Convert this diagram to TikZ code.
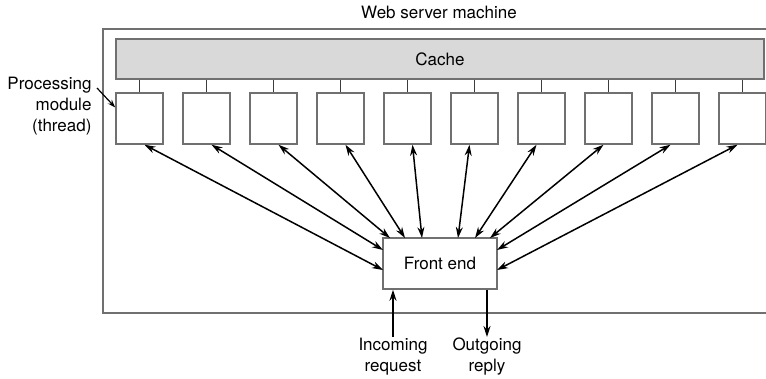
\documentclass[tikz,border=0pt]{standalone}
\usepackage{fontspec}
\setmainfont{TeX Gyre Heros}
\usepackage{tikz}
\usetikzlibrary{arrows.meta,positioning,calc}
\usepackage{xcolor}
\definecolor{wsgray}{RGB}{112,112,112}
\definecolor{wsfill}{RGB}{217,217,217}
\definecolor{wsdark}{RGB}{60,60,60}
\tikzstyle{module} = [draw=wsgray, line width=1.5pt, minimum width=47pt, minimum height=51pt, inner sep=0pt]
\tikzstyle{link} = [line width=1.5pt, {Stealth[length=11pt,width=7pt]}-{Stealth[length=11pt,width=7pt]}]
\tikzstyle{oneway} = [line width=1.5pt, -{Stealth[length=11pt,width=7pt]}]
\tikzstyle{lbl} = [font=\fontsize{17}{21}\selectfont, align=center]

\begin{document}
\begin{tikzpicture}[x=1pt, y=1pt]
    \useasboundingbox (0,0) rectangle (766,378);

    % Machine frame (open to the right)
    \draw[wsgray, line width=1.5pt] (766,349) -- (103,349) -- (103,65) -- (766,65);
    \node[lbl] (title) at (439,366) {Web server machine};

    % Cache
    \node[module, fill=wsfill, minimum width=648pt, minimum height=40pt] (cache) at (440,319) {};
    \node[lbl] at (cache) {Cache};

    % Processing modules
    \foreach \i in {1,...,10} {
        \node[module] (m\i) at ({139.5+67*(\i-1)}, 259.5) {};
        \draw[wsdark, line width=1.5pt] (m\i.north) -- (m\i.north |- cache.south);
    }

    % Front end
    \node[module, minimum width=114pt] (fe) at (440,114.5) {};
    \node[lbl] at (fe) {Front end};

    % Module <-> front end
    \foreach \i/\sx/\dx/\dy in {1/5/-57/-6.5, 2/5/-57/13.5, 3/5/-50/25.5, 4/5/-35/25.5, 5/5/-18/25.5,
                                6/-5/18/25.5, 7/-5/35/25.5, 8/-5/50/25.5, 9/-5/57/13.5, 10/-5/57/-6.5}
        \draw[link] ([xshift=\sx pt]m\i.south) -- ($(fe.center)+(\dx,\dy)$);

    % Label
    \node[lbl, align=right, anchor=east] (plabel) at (95,272) {Processing\\module\\(thread)};
    \coordinate (ptail) at (97,290);
    \draw[line width=1.2pt, -{Stealth[length=8pt,width=5.5pt]}] (ptail) -- ([yshift=11pt]m1.west);

    % Request and reply
    \node[lbl, anchor=north, inner sep=1pt] (inlbl) at (393,41) {Incoming\\request};
    \node[lbl, anchor=north, inner sep=1pt] (outlbl) at (487,41) {Outgoing\\reply};
    \draw[oneway] (inlbl.north) -- (inlbl.north |- fe.south);
    \draw[oneway] (outlbl.north |- fe.south) -- (outlbl.north);
\end{tikzpicture}
\end{document}
